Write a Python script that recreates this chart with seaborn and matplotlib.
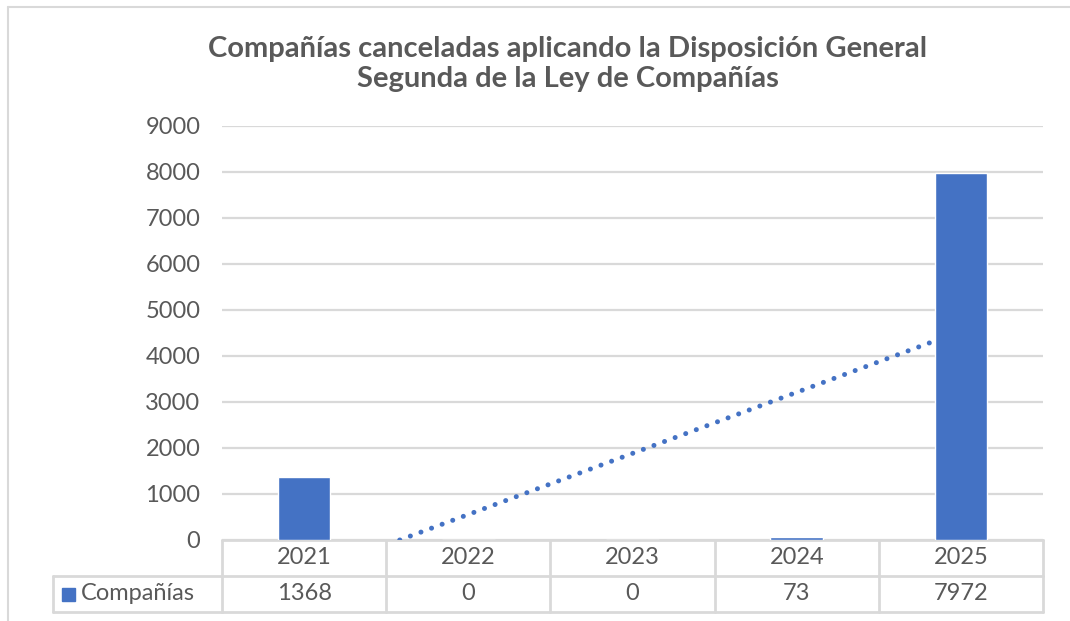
import numpy as np
import pandas as pd
import matplotlib
matplotlib.use("Agg")
import matplotlib.pyplot as plt
import matplotlib.transforms as mtransforms
import seaborn as sns

# datos del gráfico
anios = ["2021", "2022", "2023", "2024", "2025"]
companias = [1368, 0, 0, 73, 7972]
serie = "Compañías"
titulo = "Compañías canceladas aplicando la Disposición General\nSegunda de la Ley de Compañías"
y_ticks = [0, 1000, 2000, 3000, 4000, 5000, 6000, 7000, 8000, 9000]

azul = "#4472C4"
gris_texto = "#595959"
gris_linea = "#D9D9D9"

sns.set_style("white")
plt.rcParams["font.family"] = ["Lato", "DejaVu Sans"]
fs = 17

df = pd.DataFrame({"anio": anios, "valor": companias})

fig = plt.figure(figsize=(10.70, 6.21), dpi=100)
ax = fig.add_axes([222 / 1070, 1 - 540 / 621, (1043 - 222) / 1070, (540 - 126) / 621])

sns.barplot(data=df, x="anio", y="valor", color=azul, saturation=1, width=0.32, ax=ax, zorder=3)

# línea de tendencia lineal (por debajo de las barras)
xs = np.arange(len(companias)) + 1
m, b = np.polyfit(xs, companias, 1)
x0 = max(1, -b / m)
xl = np.array([x0, len(companias)])
ax.plot(xl - 1, m * xl + b, color=azul, lw=3.6, linestyle=(0, (0.01, 2.25)),
        dash_capstyle="round", zorder=2)

ax.set_ylim(0, 9000)
ax.set_xlim(-0.5, len(anios) - 0.5)
ax.set_yticks(y_ticks)
ax.tick_params(axis="y", labelsize=fs, colors=gris_texto, length=0, pad=15.5)
ax.set_xticks([])
ax.set_xlabel("")
ax.set_ylabel("")
ax.grid(axis="y", color=gris_linea, lw=1.6, zorder=0)
ax.set_axisbelow(True)
for s in ax.spines.values():
    s.set_visible(False)

# tabla de datos bajo el eje
tr = mtransforms.blended_transform_factory(ax.transData, ax.transAxes)
fila = 36 / 414
kw = dict(color=gris_linea, lw=2, clip_on=False, transform=tr, zorder=1)
ax.plot([-0.5, len(anios) - 0.5], [0, 0], **kw)
ax.plot([-0.5, len(anios) - 0.5], [-fila, -fila], **kw)
ax.plot([-0.5, len(anios) - 0.5], [-2 * fila, -2 * fila], **kw)
for i in range(len(anios) + 1):
    ax.plot([i - 0.5, i - 0.5], [0, -2 * fila], **kw)
izq = -0.5 - 169 / 164.2
ax.plot([izq, -0.5], [-fila, -fila], **kw)
ax.plot([izq, -0.5], [-2 * fila, -2 * fila], **kw)
ax.plot([izq, izq], [-fila, -2 * fila], **kw)

for i, (a, v) in enumerate(zip(anios, companias)):
    ax.text(i, -fila / 2, a, transform=tr, ha="center", va="center",
            fontsize=fs, color=gris_texto)
    ax.text(i, -1.5 * fila, str(v), transform=tr, ha="center", va="center",
            fontsize=fs, color=gris_texto)

fig.patches.append(plt.Rectangle((62 / 1070, 1 - 601 / 621), 13 / 1070, 13 / 621,
                                 transform=fig.transFigure, color=azul))
fig.text(81 / 1070, 1 - 594 / 621, serie, ha="left", va="center",
         fontsize=fs, color=gris_texto)

fig.text(568 / 1070, 1 - 64 / 621, titulo, ha="center", va="center", fontsize=21,
         fontweight="bold", color=gris_texto, linespacing=1.15)

# borde del gráfico
fig.add_artist(plt.Line2D([8 / 1070, 1], [1 - 7 / 621, 1 - 7 / 621], color=gris_linea,
                          lw=1.5, transform=fig.transFigure))
fig.add_artist(plt.Line2D([8 / 1070, 8 / 1070], [0, 1 - 7 / 621], color=gris_linea,
                          lw=1.5, transform=fig.transFigure))

fig.savefig("out.png", dpi=100)
